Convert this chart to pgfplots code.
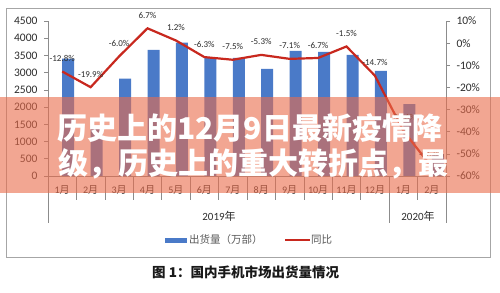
\documentclass[border=0pt]{standalone}
\usepackage{pgfplots}
\pgfplotsset{compat=1.18}
\usepackage{fontspec}
\setmainfont{Carlito}
\newfontfamily\cjk{Noto Sans CJK SC}
\definecolor{barblue}{RGB}{74,122,200}
\definecolor{linered}{RGB}{200,40,30}
\definecolor{bandc}{RGB}{234,107,74}
\definecolor{txt}{RGB}{45,45,45}
\definecolor{axgray}{RGB}{140,140,140}
\newcommand\yue{{\cjk 月}}
\begin{document}
\begin{tikzpicture}[x=1pt,y=1pt]
\path[fill=white] (0,0) rectangle (500,292);
\draw[black!35, line width=0.8pt] (6,284) rectangle (490,35);
% bars, left axis
\begin{axis}[at={(48pt,116pt)}, anchor=south west, scale only axis,
  width=398pt, height=155pt,
  xmin=-0.5, xmax=13.5, ymin=0, ymax=4500,
  ytick={0,500,...,4500},
  axis x line=none, axis y line*=left,
  axis line style={axgray, line width=0.6pt},
  ytick style={axgray, line width=0.6pt},
  tick align=outside, major tick length=4pt,
  /pgf/number format/assume math mode=true,
  /pgf/number format/1000 sep={},
  yticklabel style={font=\fontsize{11.5}{12}\selectfont, text=txt, xshift=-3pt},
  clip=false]
\addplot[ybar, bar width=12pt, bar shift=6pt, fill=barblue, draw=none]
 coordinates {(0,3405) (1,1450) (2,2825) (3,3660) (4,3869) (5,3454) (6,3430)
  (7,3110) (8,3634) (9,3605) (10,3517) (11,3052) (12,2086) (13,638)};
\end{axis}
% line, right axis
\begin{axis}[at={(48pt,116pt)}, anchor=south west, scale only axis,
  width=398pt, height=155pt,
  xmin=-0.5, xmax=13.5, ymin=-60, ymax=10,
  ytick={-60,-50,...,10},
  axis x line=none, axis y line*=right,
  axis line style={axgray, line width=0.6pt},
  ytick style={axgray, line width=0.6pt},
  tick align=outside, major tick length=4pt,
  /pgf/number format/assume math mode=true,
  yticklabel={\pgfmathprintnumber{\tick}\%},
  yticklabel style={font=\fontsize{11.5}{12}\selectfont, text=txt, anchor=west, xshift=3pt},
  clip=false,
  nodes near coords, point meta=explicit symbolic,
  nodes near coords style={font=\fontsize{9}{10}\selectfont, text=txt, anchor=center, yshift=13pt}]
\addplot[linered, line width=2.2pt, no markers]
 coordinates {(0,-12.8)[-12.8\%] (1,-19.9)[-19.9\%] (2,-6.0)[-6.0\%] (3,6.7)[6.7\%]
  (4,1.2)[1.2\%] (5,-6.3)[-6.3\%] (6,-7.5)[-7.5\%] (7,-5.3)[-5.3\%] (8,-7.1)[-7.1\%]
  (9,-6.7)[-6.7\%] (10,-1.5)[-1.5\%] (11,-14.7)[-14.7\%] (12,-39.6)[-39.6\%] (13,-56.0)[-56.0\%]};
\end{axis}
% category axis
\draw[axgray, line width=0.6pt] (48,116) -- (446,116);
\foreach \i in {1,...,11,13} \draw[axgray, line width=0.6pt] ({48+\i*28.4286},116) -- ++(0,-24);
\foreach \xx in {48,389.14,446} \draw[axgray, line width=0.6pt] (\xx,116) -- (\xx,69);
\foreach \i/\l in {0/1,1/2,2/3,3/4,4/5,5/6,6/7,7/8,8/9,9/10,10/11,11/12,12/1,13/2}
  \node[text=txt, font=\fontsize{10}{11}\selectfont, inner sep=0] at ({48+(\i+0.5)*28.4286},102) {\l\yue};
\node[text=txt, font=\fontsize{11}{12}\selectfont, inner sep=0] at (219,76) {2019{\cjk 年}};
\node[text=txt, font=\fontsize{11}{12}\selectfont, inner sep=0] at (418,76) {2020{\cjk 年}};
% legend
\fill[barblue] (165,54.5) rectangle (187,49.5);
\node[anchor=west, inner sep=0, text=black!65, font=\cjk\fontsize{10.5}{11}\selectfont] at (189,52) {出货量（万部）};
\draw[linered, line width=2pt] (285,52) -- (310,52);
\node[anchor=west, inner sep=0, text=black!65, font=\cjk\fontsize{10.5}{11}\selectfont] at (311,52) {同比};
% caption
\node[anchor=west, inner sep=0, text=black!90, font=\cjk\bfseries\fontsize{13.5}{14}\selectfont] at (152,20) {图 1：国内手机市场出货量情况};
% overlay band
\fill[bandc, opacity=0.6] (0,195) rectangle (500,99);
\node[anchor=west, inner sep=0, text=white, font=\cjk\bfseries\fontsize{30}{30}\selectfont] at (57,164) {历史上的12月9日最新疫情降};
\node[anchor=west, inner sep=0, text=white, font=\cjk\bfseries\fontsize{30}{30}\selectfont] at (58,128) {级，历史上的重大转折点，最};
\end{tikzpicture}
\end{document}
